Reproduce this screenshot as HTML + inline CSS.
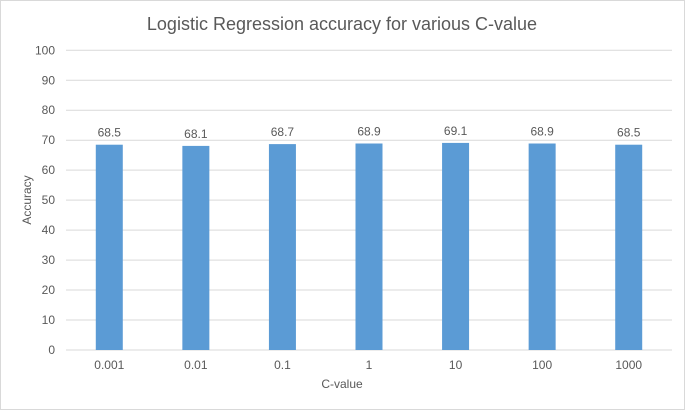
<!DOCTYPE html>
<html><head><meta charset="utf-8"><style>
body{margin:0;background:#fff;}
svg text{font-family:"Liberation Sans",sans-serif;fill:#595959;}
</style></head><body>
<svg width="685" height="410">
<rect x="0.5" y="0.5" width="684" height="409" fill="#fff" stroke="#d9d9d9"/>
<text x="342" y="30" text-anchor="middle" font-size="18">Logistic Regression accuracy for various C-value</text>
<g id="grid"></g><g id="bars"></g>
<text x="342" y="388" text-anchor="middle" font-size="12">C-value</text>
<text transform="translate(31,200) rotate(-90)" text-anchor="middle" font-size="12">Accuracy</text>
</svg>
<script>
const categories=["0.001","0.01","0.1","1","10","100","1000"];
const accuracy=[68.5,68.1,68.7,68.9,69.1,68.9,68.5];
const yTicks=[0,10,20,30,40,50,60,70,80,90,100];
const NS="http://www.w3.org/2000/svg";
const plotLeft=66,plotRight=672,plotTop=50.3,plotBottom=350;
const yScale=v=>plotBottom-(v/100)*(plotBottom-plotTop);
const band=(plotRight-plotLeft)/categories.length;
const xScale=i=>plotLeft+band*(i+0.5);
const grid=document.getElementById('grid'),bars=document.getElementById('bars');
function mk(tag,attrs,parent,text){const e=document.createElementNS(NS,tag);for(const k in attrs)e.setAttribute(k,attrs[k]);if(text!==undefined)e.textContent=text;parent.appendChild(e);return e;}
yTicks.forEach(t=>{
 const l=mk('line',{x1:plotLeft,x2:plotRight,y1:yScale(t),y2:yScale(t),stroke:'#d9d9d9','stroke-width':1},grid);
 
 
 const tx=mk('text',{x:55,y:yScale(t)+4,'text-anchor':'end','font-size':12},grid,t);
 
 
});
categories.forEach((c,i)=>{
 const r=mk('rect',{x:xScale(i)-13.5,y:yScale(accuracy[i]),width:27,height:plotBottom-yScale(accuracy[i]),fill:'#5b9bd5'},bars);
 
 
 const v=mk('text',{x:xScale(i),y:yScale(accuracy[i])-8,'text-anchor':'middle','font-size':12},bars,accuracy[i].toFixed(1));
 
 
 const cl=mk('text',{x:xScale(i),y:369,'text-anchor':'middle','font-size':12},bars,c);
 
 
});
</script>
</body></html>
